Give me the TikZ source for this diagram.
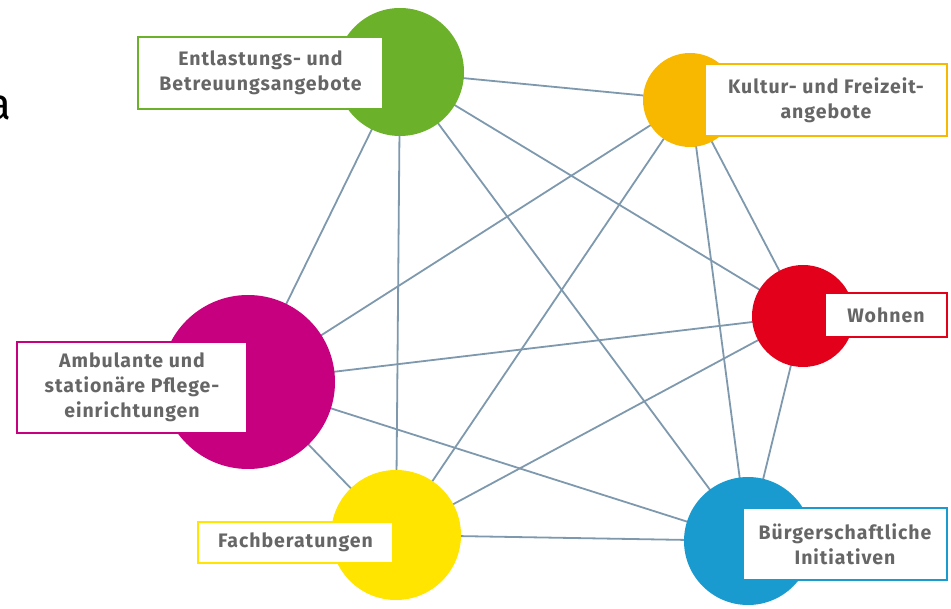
\documentclass[tikz,border=0pt]{standalone}
\usepackage{fontspec}
\setmainfont{Fira Sans}
\newfontfamily\lblfont[LetterSpace=5]{Fira Sans}
\usetikzlibrary{backgrounds}
\definecolor{cgreen}{HTML}{6BB12A}
\definecolor{corange}{HTML}{F8B800}
\definecolor{cred}{HTML}{E2001A}
\definecolor{cmag}{HTML}{C6007E}
\definecolor{cyel}{HTML}{FFE500}
\definecolor{cblue}{HTML}{1A9BCF}
\definecolor{cline}{HTML}{7E99AE}
\definecolor{ctext}{HTML}{666666}
\tikzset{
  hub/.style={circle, inner sep=0pt, draw=none},
  lbl/.style={draw=#1, line width=1.6pt, fill=white, inner sep=0pt, align=center,
    font=\lblfont\fontsize{19.5}{25}\selectfont\bfseries, text=ctext},
  link/.style={draw=cline, line width=1.8pt}
}
\begin{document}
\begin{tikzpicture}[x=1pt, y=-1pt]
\useasboundingbox (0,0) rectangle (951,609);
\node[anchor=east, font=\fontsize{44}{44}\selectfont, text=black, inner sep=0pt] (letter) at (12,108) {a};
% hubs
\node[hub, fill=cgreen,  minimum size=128pt] (G) at (400,72) {};
\node[hub, fill=corange, minimum size=94pt]  (O) at (690,100) {};
\node[hub, fill=cred,    minimum size=102pt] (R) at (803,316) {};
\node[hub, fill=cmag,    minimum size=174pt] (M) at (248,382) {};
\node[hub, fill=cyel,    minimum size=130pt] (Y) at (396,535) {};
\node[hub, fill=cblue,   minimum size=128pt] (B) at (748,541) {};
\begin{scope}[on background layer]
\foreach \a/\b in {G/O,G/R,G/B,G/M,G/Y,O/M,O/Y,O/R,O/B,M/R,M/B,M/Y,Y/R,Y/B,R/B}
  \draw[link] (\a.center) -- (\b.center);
\end{scope}
% labels
\node[lbl=cgreen,  minimum width=245pt, minimum height=72pt] (lG) at (260.5,73) {Entlastungs- und\\Betreuungsangebote};
\node[lbl=corange, minimum width=242pt, minimum height=72pt] (lO) at (826,100) {Kultur- und Freizeit-\\angebote};
\node[lbl=cred,    minimum width=122pt, minimum height=44pt] (lR) at (886,315) {Wohnen};
\node[lbl=cmag,    minimum width=230pt, minimum height=91pt] (lM) at (132,387.5) {Ambulante und\\stationäre Pflege-\\einrichtungen};
\node[lbl=cyel,    minimum width=195pt, minimum height=41pt] (lY) at (295.5,542.5) {Fachberatungen};
\node[lbl=cblue,   minimum width=204pt, minimum height=72pt] (lB) at (845,544) {Bürgerschaftliche\\Initiativen};
\end{tikzpicture}
\end{document}
